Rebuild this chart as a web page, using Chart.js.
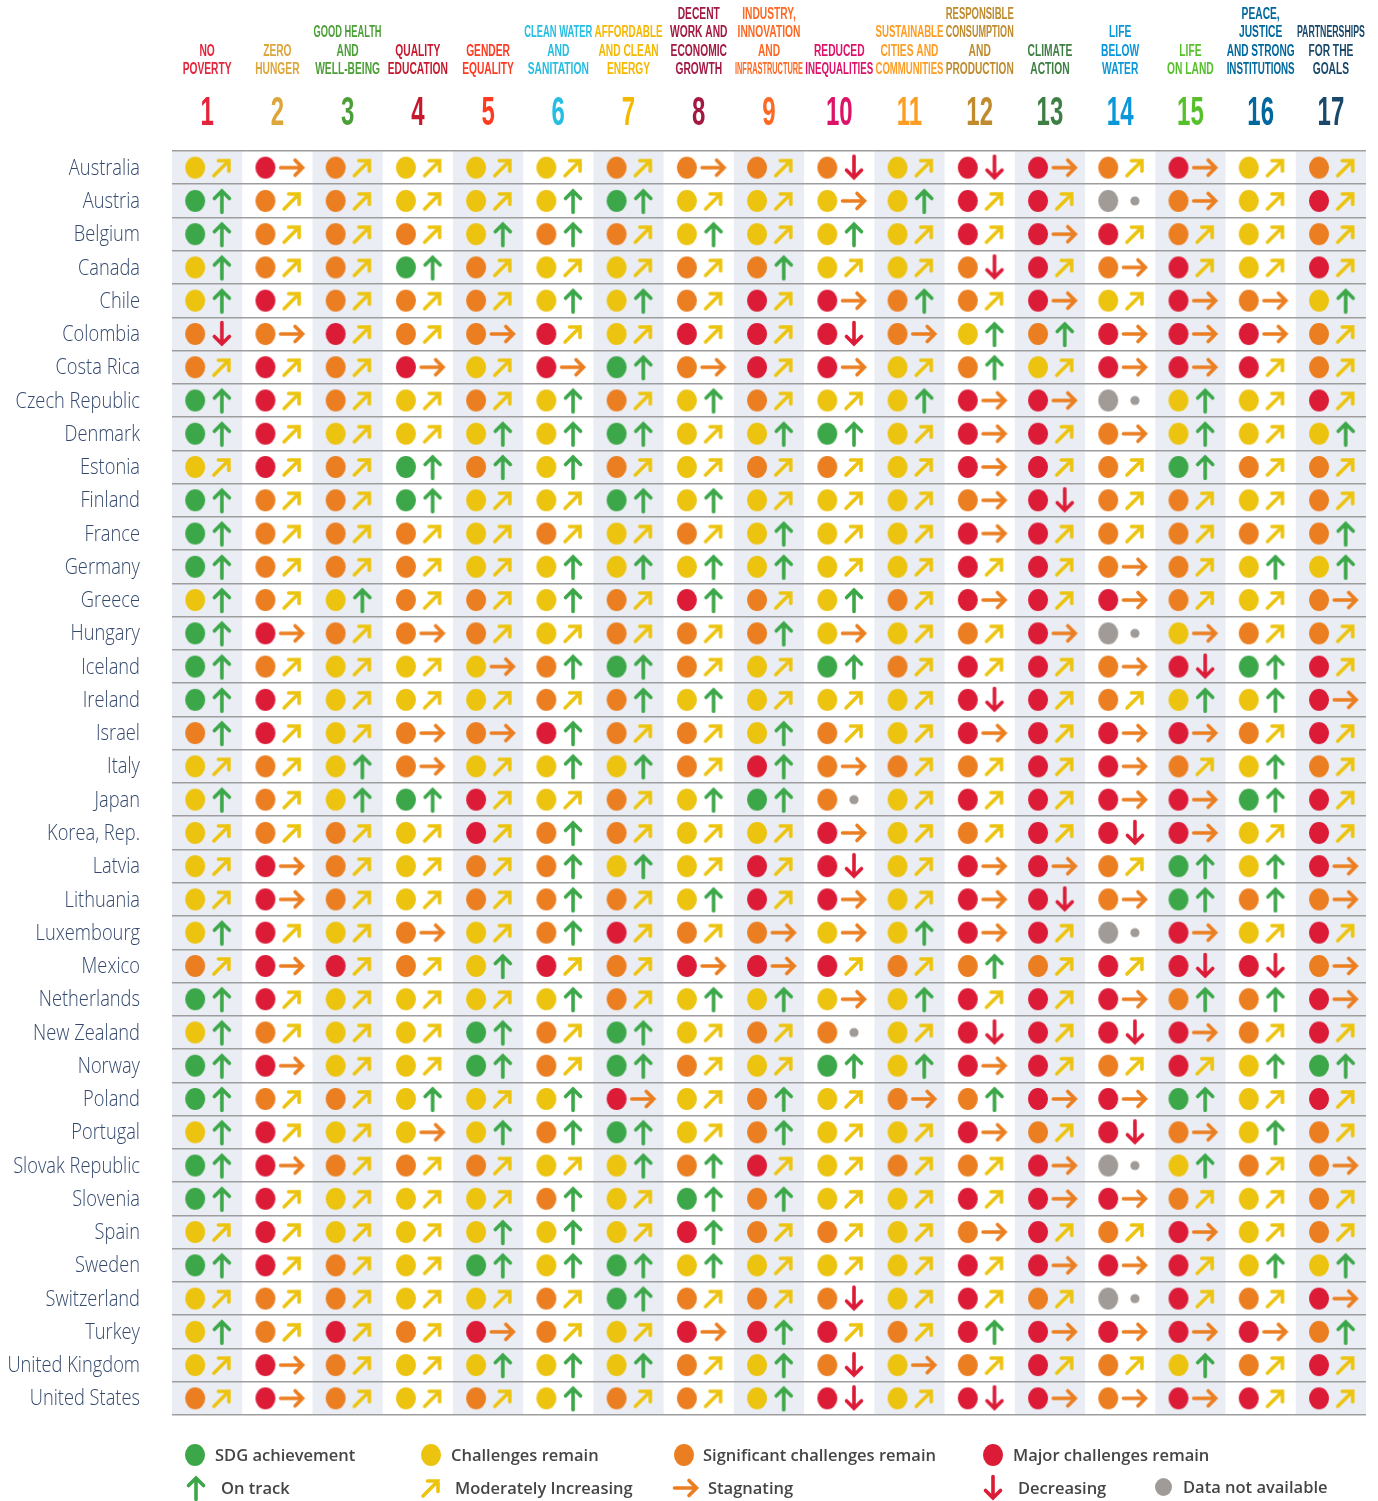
<!DOCTYPE html>
<html><head><meta charset="utf-8">
<script src="https://cdn.jsdelivr.net/npm/chart.js@4/dist/chart.umd.min.js"></script>
<style>
html,body{margin:0;padding:0;background:#fff;}
#wrap{position:relative;width:1378px;height:1501px;overflow:hidden;}
#c{position:absolute;left:0;top:0;}
.lgs{position:absolute;}
.lgt{position:absolute;font-family:"Open Sans",sans-serif;font-weight:600;font-size:16.5px;color:#454545;line-height:22px;white-space:nowrap;}
</style></head><body>
<div id="wrap"><canvas id="c" width="1378" height="1501"></canvas><div id="legend"></div></div>
<script>
// ---------------- DATA ----------------
const countries = ["Australia","Austria","Belgium","Canada","Chile","Colombia","Costa Rica","Czech Republic","Denmark","Estonia","Finland","France","Germany","Greece","Hungary","Iceland","Ireland","Israel","Italy","Japan","Korea, Rep.","Latvia","Lithuania","Luxembourg","Mexico","Netherlands","New Zealand","Norway","Poland","Portugal","Slovak Republic","Slovenia","Spain","Sweden","Switzerland","Turkey","United Kingdom","United States"];
const goalNumbers = [1,2,3,4,5,6,7,8,9,10,11,12,13,14,15,16,17];
const goalNames = [
  ["NO","POVERTY"],["ZERO","HUNGER"],["GOOD HEALTH","AND","WELL-BEING"],["QUALITY","EDUCATION"],
  ["GENDER","EQUALITY"],["CLEAN WATER","AND","SANITATION"],["AFFORDABLE","AND CLEAN","ENERGY"],
  ["DECENT","WORK AND","ECONOMIC","GROWTH"],["INDUSTRY,","INNOVATION","AND","INFRASTRUCTURE"],
  ["REDUCED","INEQUALITIES"],["SUSTAINABLE","CITIES AND","COMMUNITIES"],["RESPONSIBLE","CONSUMPTION","AND","PRODUCTION"],
  ["CLIMATE","ACTION"],["LIFE","BELOW","WATER"],["LIFE","ON LAND"],["PEACE,","JUSTICE","AND STRONG","INSTITUTIONS"],
  ["PARTNERSHIPS","FOR THE","GOALS"]
];
const goalColors = ["#e5243b","#dda63a","#4c9f38","#c5192d","#ff3a21","#26bde2","#f5b800","#a21942","#fd6925","#dd1367","#fd9d24","#bf8b2e","#3f7e44","#0a97d9","#56c02b","#00689d","#19486a"];
// status per country, goals 1..17: G achieved, Y challenges, O significant, R major, N n/a
const status = [
  "YROYYYOOOOYRRORYO","GOOYYYGYYYYRRNOYR","GOOOYOOYYYYRRROYO","YOOGOYYOOYYORORYR","YROOOYYORROORYROY",
  "OOROORYRRROYORRRO","ORORYRGORRYOYRRRO","GROYOYOYOYYRRNYYR","GRYYYYGYYGYRROYYY","YROGOYOYOOYRROGOO",
  "GOOGYYGYYYYOROOYO","GOOOYOYOYYYRROOOO","GOOOYYYYYYYRROOYY","YOYOOYOROYORRROYO","GROOOYOOOYYORNYOO",
  "GOYYYOGOYGORRORGR","GRYYYOOYYYYRROYYR","ORYOOROOYOYRRRROR","YOYOYYYOROOORROYO","YOYGRYOYGOYRRRRGR",
  "YOOYROOYYRYORRRYR","YROYOOYYRRYRROGYR","YROYOOOYRRYRROGOO","YRYOYOROOYYRRNRYR","ORROYRORRROOORRRO",
  "GRYYYYOYYYYRRROOR","YOYYGOGYOOYRRRROR","GRYYGOGOYGYRRORYG","GOOYYYRYOYOORRGYR","YRYYYOGYOYYROROYO",
  "GROOOYYORYOORNYOO","GRYYYOYGOYYRRROYO","YRYYYYYROOYORORYO","GROYGYGYYYYRRRRYY","YOOYYOGOOOYRONROR",
  "YOROROYRRRORRRRRO","YROYYYYOYOYOROYOR","OROYOYOOYRYRRORRR"
];
// trend per country, goals 1..17: U on track, M moderately increasing, S stagnating, D decreasing, N n/a
const trend = [
  "MSMMMMMSMDMDSMSMM","UMMMMUUMMSUMMNSMM","UMMMUUMUMUMMSMMMM","UMMUMMMMUMMDMSMMM","UMMMMUUMMSUMSMSSU",
  "DSMMSMMMMDSUUSSSM","MMMSMSUSMSMUMSSMM","UMMMMUMUMMUSSNUMM","UMMMUUUMUUMSMSUMU","MMMUUUMMMMMSMMUMM",
  "UMMUMMUUMMMSDMMMM","UMMMMMMMUMMSMMMMU","UMMMMUUUUMMMMSMUU","UMUMMUMUMUMSMSMMS","USMSMMMMUSMMSNSMM",
  "UMMMSUUMMUMMMSDUM","UMMMMMUUMMMDMMUUS","UMMSSUMMUMMSMSSMM","MMUSMUUMUSMMMSMUM","UMUUMMMUUNMMMSSUM",
  "MMMMMUMMMSMMMDSMM","MSMMMUUMMDMSSMUUS","MSMMMUMUMSMSDSUUS","UMMSMUMMSSUSMNSMM","MSMMUMMSSMMUMMDDS",
  "UMMMMUMUUSUMMSUUS","UMMMUMUMMNMDMDSMM","USMMUMUMMUUSMMMUU","UMMUMUSMUMSUSSUMM","UMMSUUUMUMMSMDSUM",
  "USMMMMUUMMMMSNUMS","UMMMMUMUUMMMSSMMM","MMMMUUMUMMMSMMSMM","UMMMUUUUMMMMSSMUU","MMMMMMUMMDMMMNMMS",
  "UMMMSMMSUMMUSSSSU","MSMMUUUMUDSMMMUMM","MSMMMUMMUDMDSSSMM"
];
const statusCodes = ["G","Y","O","R","N"];
const statusLabels = ["SDG achievement","Challenges remain","Significant challenges remain","Major challenges remain","Data not available"];
const trendCodes = ["U","M","S","D","N"];
const trendLabels = ["On track","Moderately Increasing","Stagnating","Decreasing","Data not available"];

// ---------------- STYLE ----------------
const C = {G:"#3ba748",Y:"#ecc30f",O:"#eb7e20",R:"#dc1b37",N:"#a09b97"};
const DOT_OFF = -0.17, ARR_OFF = 0.21;

function makeDot(color, rx, ry){
  const w = Math.ceil(rx*2+2), h = Math.ceil(ry*2+2);
  const cv = document.createElement('canvas'); cv.width=w; cv.height=h;
  const g = cv.getContext('2d'); g.fillStyle=color; g.beginPath();
  g.ellipse(w/2,h/2,rx,ry,0,0,Math.PI*2); g.fill(); return cv;
}
function makeArrow(kind){
  const cv = document.createElement('canvas'); cv.width=30; cv.height=30;
  const g = cv.getContext('2d');
  g.lineWidth=3.6; g.lineCap='round'; g.lineJoin='miter';
  g.beginPath();
  if(kind==='U'){ g.strokeStyle=C.G; g.moveTo(15,26.5); g.lineTo(15,5); g.moveTo(7.5,12.5); g.lineTo(15,5); g.lineTo(22.5,12.5); }
  else if(kind==='D'){ g.strokeStyle=C.R; g.moveTo(15,3.5); g.lineTo(15,25); g.moveTo(7.5,17.5); g.lineTo(15,25); g.lineTo(22.5,17.5); }
  else if(kind==='S'){ g.strokeStyle=C.O; g.moveTo(3.5,15); g.lineTo(25.5,15); g.moveTo(18,7.5); g.lineTo(25.5,15); g.lineTo(18,22.5); }
  else if(kind==='M'){ g.strokeStyle=C.Y; g.moveTo(7,23); g.lineTo(22,8); g.moveTo(11.5,8); g.lineTo(22,8); g.lineTo(22,18.5); }
  g.stroke();
  if(kind==='N'){ g.fillStyle=C.N; g.beginPath(); g.arc(15,15,4.6,0,Math.PI*2); g.fill(); }
  return cv;
}
const dotImgs = {}; statusCodes.forEach(s=>dotImgs[s]=makeDot(C[s],10,11));
const arrowImgs = {}; trendCodes.forEach(t=>arrowImgs[t]=makeArrow(t));

// ---------------- DATASETS ----------------
function pointsFor(table, code, off){
  const pts=[];
  countries.forEach((c,r)=>{ goalNumbers.forEach((g,i)=>{ if(table[r][i]===code) pts.push({x:g+off,y:c}); }); });
  return pts;
}
const datasets = [];
statusCodes.forEach((s,k)=>datasets.push({label:statusLabels[k],data:pointsFor(status,s,DOT_OFF),pointStyle:dotImgs[s],pointRadius:10}));
trendCodes.forEach((t,k)=>datasets.push({label:trendLabels[k],data:pointsFor(trend,t,ARR_OFF),pointStyle:arrowImgs[t],pointRadius:10}));

// ---------------- PLUGINS ----------------
const shadePlugin = {
  id:'shade',
  beforeDraw(chart){
    const ctx=chart.ctx, a=chart.chartArea, xs=chart.scales.x;
    ctx.save(); ctx.fillStyle='#fff'; ctx.fillRect(0,0,chart.width,chart.height);
    ctx.fillStyle='#eaeef4';
    goalNumbers.forEach((g,i)=>{ if(i%2===0){ const x0=xs.getPixelForValue(g-0.5), x1=xs.getPixelForValue(g+0.5); ctx.fillRect(x0,a.top,x1-x0,a.bottom-a.top);} });
    ctx.restore();
  }
};
const headerPlugin = {
  id:'header',
  afterDraw(chart){
    const ctx=chart.ctx, xs=chart.scales.x, ys=chart.scales.y;
    ctx.save(); ctx.textAlign='center'; ctx.textBaseline='middle';
    goalNumbers.forEach((g,i)=>{
      const cx=xs.getPixelForValue(g), lines=goalNames[i];
      ctx.fillStyle=goalColors[i];
      ctx.font='bold 16px "Liberation Sans", sans-serif';
      lines.forEach((ln,j)=>{
        const y=70-(lines.length-1-j)*18.6;
        ctx.save(); ctx.translate(cx,y); ctx.scale(0.64,1); ctx.fillText(ln,0,0,68/0.64); ctx.restore();
      });
      ctx.font='bold 40px "Liberation Sans", sans-serif';
      ctx.save(); ctx.translate(cx,114); ctx.scale(0.6,1); ctx.fillText(String(g),0,0); ctx.restore();
    });
    // country labels of the y axis, drawn condensed at the axis tick positions
    ctx.textAlign='right'; ctx.fillStyle='#34496d';
    ctx.font='300 21.5px "Open Sans", sans-serif';
    ys.getLabels().forEach((name,r)=>{
      const y=ys.getPixelForValue(r)+1;
      ctx.save(); ctx.translate(ys.right-32,y); ctx.scale(0.85,1); ctx.fillText(name,0,0); ctx.restore();
    });
    ctx.restore();
  }
};

new Chart(document.getElementById('c'),{
  type:'scatter',
  data:{datasets},
  options:{
    responsive:false, animation:false, events:[],
    layout:{padding:{left:0,right:12,top:151,bottom:86}},
    plugins:{legend:{display:false},tooltip:{enabled:false}},
    scales:{
      x:{type:'linear',min:0.5,max:17.5,display:false},
      y:{type:'category',labels:countries,offset:true,
         grid:{offset:true,color:'#9d9d9d',lineWidth:1.6,drawTicks:false},
         border:{display:false},
         ticks:{display:false},
         afterFit(s){ s.width=172; }}
    }
  },
  plugins:[shadePlugin,headerPlugin]
});

// ---------------- LEGEND ----------------
const legendItems = [
  {img:dotImgs.G, sx:195, cy:1455, text:statusLabels[0], tx:215},
  {img:dotImgs.Y, sx:431, cy:1455, text:statusLabels[1], tx:451},
  {img:dotImgs.O, sx:684, cy:1455, text:statusLabels[2], tx:703},
  {img:dotImgs.R, sx:993, cy:1455, text:statusLabels[3], tx:1013},
  {img:arrowImgs.U, sx:196, cy:1488, text:trendLabels[0], tx:221},
  {img:arrowImgs.M, sx:431, cy:1488, text:trendLabels[1], tx:455},
  {img:arrowImgs.S, sx:686, cy:1488, text:trendLabels[2], tx:708},
  {img:arrowImgs.D, sx:993, cy:1488, text:trendLabels[3], tx:1018},
  {img:makeDot(C.N,8.5,9), sx:1163, cy:1487, text:trendLabels[4], tx:1183}
];
const lg=document.getElementById('legend');
legendItems.forEach(it=>{
  const im=document.createElement('img'); im.className='lgs'; im.src=it.img.toDataURL();
  im.style.left=(it.sx-it.img.width/2)+'px'; im.style.top=(it.cy-it.img.height/2)+'px';
  lg.appendChild(im);
  const t=document.createElement('div'); t.className='lgt'; t.textContent=it.text;
  t.style.left=it.tx+'px'; t.style.top=(it.cy-11)+'px'; lg.appendChild(t);
});
</script>
</body></html>
